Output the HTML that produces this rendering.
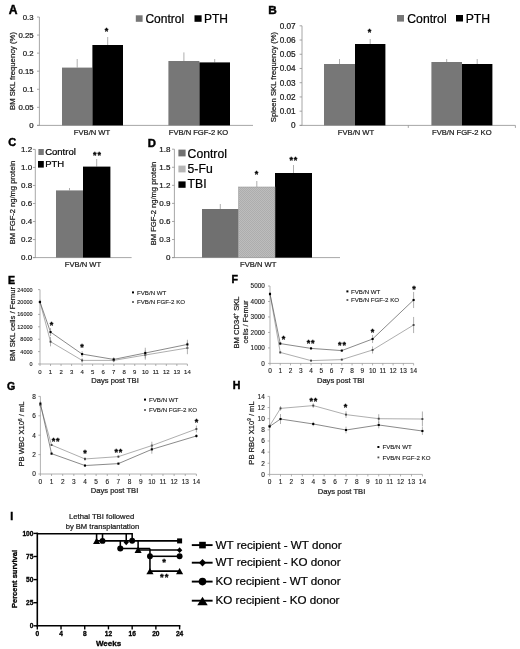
<!DOCTYPE html>
<html lang="en"><head><meta charset="utf-8"><title>Figure</title>
<style>
html,body{margin:0;padding:0;background:#fff}
body{width:520px;height:649px;overflow:hidden;font-family:"Liberation Sans", Arial, sans-serif}
svg{display:block;font-family:"Liberation Sans", Arial, sans-serif}
</style></head><body>
<svg width="520" height="649" viewBox="0 0 520 649">
<rect width="520" height="649" fill="#fff"/>
<text x="8.7" y="13.5" font-size="12.1" text-anchor="start" font-weight="bold" fill="#000" stroke="#000" stroke-width="0.45">A</text>
<line x1="39.4" y1="17" x2="39.4" y2="125.4" stroke="#909090" stroke-width="0.8"/>
<line x1="37.0" y1="17.0" x2="39.4" y2="17.0" stroke="#909090" stroke-width="0.8"/>
<text x="33.6" y="19.81" font-size="7.8" text-anchor="end" fill="#1a1a1a" stroke="#1a1a1a" stroke-width="0.22">0.3</text>
<line x1="37.0" y1="35.07" x2="39.4" y2="35.07" stroke="#909090" stroke-width="0.8"/>
<text x="33.6" y="37.87" font-size="7.8" text-anchor="end" fill="#1a1a1a" stroke="#1a1a1a" stroke-width="0.22">0.25</text>
<line x1="37.0" y1="53.13" x2="39.4" y2="53.13" stroke="#909090" stroke-width="0.8"/>
<text x="33.6" y="55.94" font-size="7.8" text-anchor="end" fill="#1a1a1a" stroke="#1a1a1a" stroke-width="0.22">0.2</text>
<line x1="37.0" y1="71.2" x2="39.4" y2="71.2" stroke="#909090" stroke-width="0.8"/>
<text x="33.6" y="74.01" font-size="7.8" text-anchor="end" fill="#1a1a1a" stroke="#1a1a1a" stroke-width="0.22">0.15</text>
<line x1="37.0" y1="89.27" x2="39.4" y2="89.27" stroke="#909090" stroke-width="0.8"/>
<text x="33.6" y="92.07" font-size="7.8" text-anchor="end" fill="#1a1a1a" stroke="#1a1a1a" stroke-width="0.22">0.1</text>
<line x1="37.0" y1="107.33" x2="39.4" y2="107.33" stroke="#909090" stroke-width="0.8"/>
<text x="33.6" y="110.14" font-size="7.8" text-anchor="end" fill="#1a1a1a" stroke="#1a1a1a" stroke-width="0.22">0.05</text>
<line x1="37.0" y1="125.4" x2="39.4" y2="125.4" stroke="#909090" stroke-width="0.8"/>
<text x="33.6" y="128.21" font-size="7.8" text-anchor="end" fill="#1a1a1a" stroke="#1a1a1a" stroke-width="0.22">0</text>
<line x1="37.0" y1="125.4" x2="253" y2="125.4" stroke="#909090" stroke-width="0.8"/>
<text x="15.2" y="71" font-size="7.7" text-anchor="middle" fill="#1a1a1a" stroke="#1a1a1a" stroke-width="0.22" transform="rotate(-90 15.2 71)">BM SKL frequency (%)</text>
<line x1="77.2" y1="59" x2="77.2" y2="67.6" stroke="#9a9a9a" stroke-width="0.8"/>
<rect x="62" y="67.6" width="30.4" height="57.8" fill="#777777"/>
<line x1="107.7" y1="37" x2="107.7" y2="45" stroke="#9a9a9a" stroke-width="0.8"/>
<rect x="92.4" y="45" width="30.6" height="80.4" fill="#000"/>
<line x1="183.9" y1="52.4" x2="183.9" y2="61" stroke="#9a9a9a" stroke-width="0.8"/>
<rect x="168.4" y="61" width="31.0" height="64.4" fill="#777777"/>
<line x1="214.7" y1="59" x2="214.7" y2="62.4" stroke="#9a9a9a" stroke-width="0.8"/>
<rect x="199.4" y="62.4" width="30.6" height="63.0" fill="#000"/>
<text x="92" y="135.1" font-size="7.6" text-anchor="middle" fill="#1a1a1a" stroke="#1a1a1a" stroke-width="0.22">FVB/N WT</text>
<text x="198.5" y="135.1" font-size="7.6" text-anchor="middle" fill="#1a1a1a" stroke="#1a1a1a" stroke-width="0.22">FVB/N FGF-2 KO</text>
<text x="106.6" y="33.55" font-size="9" text-anchor="middle" font-weight="bold" fill="#000" stroke="#000" stroke-width="0.3">*</text>
<rect x="135.8" y="15.3" width="6.8" height="6.5" fill="#777777"/>
<text x="145.4" y="23" font-size="12" text-anchor="start" fill="#000" stroke="#000" stroke-width="0.22">Control</text>
<rect x="194.5" y="15.3" width="7.1" height="6.5" fill="#000"/>
<text x="203.9" y="23" font-size="12" text-anchor="start" fill="#000" stroke="#000" stroke-width="0.22">PTH</text>
<text x="268.2" y="13.7" font-size="11.8" text-anchor="start" font-weight="bold" fill="#000" stroke="#000" stroke-width="0.45">B</text>
<line x1="302" y1="25.8" x2="302" y2="125.4" stroke="#909090" stroke-width="0.8"/>
<line x1="299.6" y1="25.8" x2="302" y2="25.8" stroke="#909090" stroke-width="0.8"/>
<text x="295.6" y="28.75" font-size="8.2" text-anchor="end" fill="#1a1a1a" stroke="#1a1a1a" stroke-width="0.22">0.07</text>
<line x1="299.6" y1="40.03" x2="302" y2="40.03" stroke="#909090" stroke-width="0.8"/>
<text x="295.6" y="42.98" font-size="8.2" text-anchor="end" fill="#1a1a1a" stroke="#1a1a1a" stroke-width="0.22">0.06</text>
<line x1="299.6" y1="54.26" x2="302" y2="54.26" stroke="#909090" stroke-width="0.8"/>
<text x="295.6" y="57.21" font-size="8.2" text-anchor="end" fill="#1a1a1a" stroke="#1a1a1a" stroke-width="0.22">0.05</text>
<line x1="299.6" y1="68.49" x2="302" y2="68.49" stroke="#909090" stroke-width="0.8"/>
<text x="295.6" y="71.44" font-size="8.2" text-anchor="end" fill="#1a1a1a" stroke="#1a1a1a" stroke-width="0.22">0.04</text>
<line x1="299.6" y1="82.71" x2="302" y2="82.71" stroke="#909090" stroke-width="0.8"/>
<text x="295.6" y="85.67" font-size="8.2" text-anchor="end" fill="#1a1a1a" stroke="#1a1a1a" stroke-width="0.22">0.03</text>
<line x1="299.6" y1="96.94" x2="302" y2="96.94" stroke="#909090" stroke-width="0.8"/>
<text x="295.6" y="99.89" font-size="8.2" text-anchor="end" fill="#1a1a1a" stroke="#1a1a1a" stroke-width="0.22">0.02</text>
<line x1="299.6" y1="111.17" x2="302" y2="111.17" stroke="#909090" stroke-width="0.8"/>
<text x="295.6" y="114.12" font-size="8.2" text-anchor="end" fill="#1a1a1a" stroke="#1a1a1a" stroke-width="0.22">0.01</text>
<line x1="299.6" y1="125.4" x2="302" y2="125.4" stroke="#909090" stroke-width="0.8"/>
<text x="295.6" y="128.35" font-size="8.2" text-anchor="end" fill="#1a1a1a" stroke="#1a1a1a" stroke-width="0.22">0</text>
<line x1="299.6" y1="125.4" x2="515.4" y2="125.4" stroke="#909090" stroke-width="0.8"/>
<line x1="408.3" y1="125.4" x2="408.3" y2="127.9" stroke="#909090" stroke-width="0.8"/>
<line x1="515.4" y1="125.4" x2="515.4" y2="127.9" stroke="#909090" stroke-width="0.8"/>
<text x="276.2" y="77" font-size="7.7" text-anchor="middle" fill="#1a1a1a" stroke="#1a1a1a" stroke-width="0.22" transform="rotate(-90 276.2 77)">Spleen SKL frequency (%)</text>
<line x1="339.5" y1="59" x2="339.5" y2="64" stroke="#9a9a9a" stroke-width="0.8"/>
<rect x="324" y="64" width="31" height="61.4" fill="#777777"/>
<line x1="370.2" y1="39" x2="370.2" y2="44" stroke="#9a9a9a" stroke-width="0.8"/>
<rect x="355" y="44" width="30.4" height="81.4" fill="#000"/>
<line x1="446.7" y1="59" x2="446.7" y2="62" stroke="#9a9a9a" stroke-width="0.8"/>
<rect x="431.4" y="62" width="30.6" height="63.4" fill="#777777"/>
<line x1="477.2" y1="59" x2="477.2" y2="64" stroke="#9a9a9a" stroke-width="0.8"/>
<rect x="462" y="64" width="30.4" height="61.4" fill="#000"/>
<text x="356" y="135.1" font-size="7.6" text-anchor="middle" fill="#1a1a1a" stroke="#1a1a1a" stroke-width="0.22">FVB/N WT</text>
<text x="461.8" y="135.1" font-size="7.6" text-anchor="middle" fill="#1a1a1a" stroke="#1a1a1a" stroke-width="0.22">FVB/N FGF-2 KO</text>
<text x="369.6" y="34.95" font-size="9" text-anchor="middle" font-weight="bold" fill="#000" stroke="#000" stroke-width="0.3">*</text>
<rect x="397" y="15" width="7" height="6.6" fill="#777777"/>
<text x="407.3" y="23" font-size="12.2" text-anchor="start" fill="#000" stroke="#000" stroke-width="0.22">Control</text>
<rect x="456" y="15" width="7" height="6.5" fill="#000"/>
<text x="465.7" y="23" font-size="12.2" text-anchor="start" fill="#000" stroke="#000" stroke-width="0.22">PTH</text>
<text x="8.2" y="146" font-size="11" text-anchor="start" font-weight="bold" fill="#000" stroke="#000" stroke-width="0.45">C</text>
<line x1="35.3" y1="149.4" x2="35.3" y2="257.6" stroke="#909090" stroke-width="0.8"/>
<line x1="32.9" y1="149.4" x2="35.3" y2="149.4" stroke="#909090" stroke-width="0.8"/>
<text x="32.2" y="152.28" font-size="8.0" text-anchor="end" fill="#1a1a1a" stroke="#1a1a1a" stroke-width="0.22">1.2</text>
<line x1="32.9" y1="167.43" x2="35.3" y2="167.43" stroke="#909090" stroke-width="0.8"/>
<text x="32.2" y="170.31" font-size="8.0" text-anchor="end" fill="#1a1a1a" stroke="#1a1a1a" stroke-width="0.22">1.0</text>
<line x1="32.9" y1="185.47" x2="35.3" y2="185.47" stroke="#909090" stroke-width="0.8"/>
<text x="32.2" y="188.35" font-size="8.0" text-anchor="end" fill="#1a1a1a" stroke="#1a1a1a" stroke-width="0.22">0.8</text>
<line x1="32.9" y1="203.5" x2="35.3" y2="203.5" stroke="#909090" stroke-width="0.8"/>
<text x="32.2" y="206.38" font-size="8.0" text-anchor="end" fill="#1a1a1a" stroke="#1a1a1a" stroke-width="0.22">0.6</text>
<line x1="32.9" y1="221.53" x2="35.3" y2="221.53" stroke="#909090" stroke-width="0.8"/>
<text x="32.2" y="224.41" font-size="8.0" text-anchor="end" fill="#1a1a1a" stroke="#1a1a1a" stroke-width="0.22">0.4</text>
<line x1="32.9" y1="239.57" x2="35.3" y2="239.57" stroke="#909090" stroke-width="0.8"/>
<text x="32.2" y="242.45" font-size="8.0" text-anchor="end" fill="#1a1a1a" stroke="#1a1a1a" stroke-width="0.22">0.2</text>
<line x1="32.9" y1="257.6" x2="35.3" y2="257.6" stroke="#909090" stroke-width="0.8"/>
<text x="32.2" y="260.48" font-size="8.0" text-anchor="end" fill="#1a1a1a" stroke="#1a1a1a" stroke-width="0.22">0.0</text>
<line x1="32.9" y1="257.6" x2="131.6" y2="257.6" stroke="#909090" stroke-width="0.8"/>
<text x="14.7" y="202.5" font-size="7.55" text-anchor="middle" fill="#1a1a1a" stroke="#1a1a1a" stroke-width="0.22" transform="rotate(-90 14.7 202.5)">BM FGF-2 ng/mg protein</text>
<line x1="69.5" y1="188" x2="69.5" y2="190.4" stroke="#9a9a9a" stroke-width="0.8"/>
<rect x="56" y="190.4" width="27" height="67.2" fill="#777777"/>
<line x1="96.7" y1="159" x2="96.7" y2="166.6" stroke="#9a9a9a" stroke-width="0.8"/>
<rect x="83" y="166.6" width="27.4" height="91.0" fill="#000"/>
<text x="83" y="267.1" font-size="7.6" text-anchor="middle" fill="#1a1a1a" stroke="#1a1a1a" stroke-width="0.22">FVB/N WT</text>
<text x="97.45" y="157.95" font-size="9" text-anchor="middle" font-weight="bold" fill="#000" stroke="#000" stroke-width="0.3" letter-spacing="0.9">**</text>
<rect x="38.4" y="149" width="5.4" height="6" fill="#777777"/>
<text x="45.2" y="154.8" font-size="9.5" text-anchor="start" fill="#000" stroke="#000" stroke-width="0.22">Control</text>
<rect x="38" y="161" width="5.8" height="6.6" fill="#000"/>
<text x="45.2" y="167.2" font-size="9.5" text-anchor="start" fill="#000" stroke="#000" stroke-width="0.22">PTH</text>
<defs><pattern id="hatch" width="2" height="2" patternUnits="userSpaceOnUse"><rect width="2" height="2" fill="#bdbdbd"/><rect width="1" height="1" fill="#adadad"/><rect x="1" y="1" width="1" height="1" fill="#adadad"/></pattern></defs>
<text x="147.8" y="147.2" font-size="11.3" text-anchor="start" font-weight="bold" fill="#000" stroke="#000" stroke-width="0.45">D</text>
<line x1="174.4" y1="149.2" x2="174.4" y2="257.6" stroke="#909090" stroke-width="0.8"/>
<line x1="172.0" y1="149.2" x2="174.4" y2="149.2" stroke="#909090" stroke-width="0.8"/>
<text x="170.4" y="152.08" font-size="8.0" text-anchor="end" fill="#1a1a1a" stroke="#1a1a1a" stroke-width="0.22">1.8</text>
<line x1="172.0" y1="167.27" x2="174.4" y2="167.27" stroke="#909090" stroke-width="0.8"/>
<text x="170.4" y="170.15" font-size="8.0" text-anchor="end" fill="#1a1a1a" stroke="#1a1a1a" stroke-width="0.22">1.5</text>
<line x1="172.0" y1="185.33" x2="174.4" y2="185.33" stroke="#909090" stroke-width="0.8"/>
<text x="170.4" y="188.21" font-size="8.0" text-anchor="end" fill="#1a1a1a" stroke="#1a1a1a" stroke-width="0.22">1.2</text>
<line x1="172.0" y1="203.4" x2="174.4" y2="203.4" stroke="#909090" stroke-width="0.8"/>
<text x="170.4" y="206.28" font-size="8.0" text-anchor="end" fill="#1a1a1a" stroke="#1a1a1a" stroke-width="0.22">0.9</text>
<line x1="172.0" y1="221.47" x2="174.4" y2="221.47" stroke="#909090" stroke-width="0.8"/>
<text x="170.4" y="224.35" font-size="8.0" text-anchor="end" fill="#1a1a1a" stroke="#1a1a1a" stroke-width="0.22">0.6</text>
<line x1="172.0" y1="239.53" x2="174.4" y2="239.53" stroke="#909090" stroke-width="0.8"/>
<text x="170.4" y="242.41" font-size="8.0" text-anchor="end" fill="#1a1a1a" stroke="#1a1a1a" stroke-width="0.22">0.3</text>
<line x1="172.0" y1="257.6" x2="174.4" y2="257.6" stroke="#909090" stroke-width="0.8"/>
<text x="170.4" y="260.48" font-size="8.0" text-anchor="end" fill="#1a1a1a" stroke="#1a1a1a" stroke-width="0.22">0</text>
<line x1="172.0" y1="257.6" x2="340" y2="257.6" stroke="#909090" stroke-width="0.8"/>
<text x="156.2" y="203.5" font-size="7.55" text-anchor="middle" fill="#1a1a1a" stroke="#1a1a1a" stroke-width="0.22" transform="rotate(-90 156.2 203.5)">BM FGF-2 ng/mg protein</text>
<line x1="220.3" y1="204" x2="220.3" y2="209" stroke="#9a9a9a" stroke-width="0.8"/>
<rect x="202" y="209" width="36.6" height="48.6" fill="#707070"/>
<line x1="256.8" y1="181" x2="256.8" y2="187" stroke="#9a9a9a" stroke-width="0.8"/>
<rect x="238.6" y="187" width="36.4" height="70.6" fill="url(#hatch)"/>
<line x1="293.5" y1="165" x2="293.5" y2="173" stroke="#9a9a9a" stroke-width="0.8"/>
<rect x="275" y="173" width="37" height="84.6" fill="#000"/>
<text x="258.2" y="267.1" font-size="7.6" text-anchor="middle" fill="#1a1a1a" stroke="#1a1a1a" stroke-width="0.22">FVB/N WT</text>
<text x="256.6" y="176.95" font-size="9" text-anchor="middle" font-weight="bold" fill="#000" stroke="#000" stroke-width="0.3">*</text>
<text x="293.85" y="162.95" font-size="9" text-anchor="middle" font-weight="bold" fill="#000" stroke="#000" stroke-width="0.3" letter-spacing="0.9">**</text>
<rect x="178.4" y="149.6" width="7.2" height="6.8" fill="#707070"/>
<text x="187.6" y="157.6" font-size="12.2" text-anchor="start" fill="#000" stroke="#000" stroke-width="0.22">Control</text>
<rect x="178.4" y="165.6" width="7.2" height="6.8" fill="#b6b6b6"/>
<text x="187.6" y="173.2" font-size="12.2" text-anchor="start" fill="#000" stroke="#000" stroke-width="0.22">5-Fu</text>
<rect x="178.4" y="181.4" width="7.2" height="6.4" fill="#000"/>
<text x="187.6" y="188.2" font-size="12.2" text-anchor="start" fill="#000" stroke="#000" stroke-width="0.22">TBI</text>
<rect x="238.6" y="187" width="36.4" height="70.6" fill="none" stroke="#9c9c9c" stroke-width="0.6"/>
<text x="8" y="283.6" font-size="10.6" text-anchor="start" font-weight="bold" fill="#000" stroke="#000" stroke-width="0.45">E</text>
<line x1="40" y1="289.6" x2="40" y2="364" stroke="#909090" stroke-width="0.7"/>
<line x1="38" y1="289.6" x2="40" y2="289.6" stroke="#909090" stroke-width="0.7"/>
<text x="32.6" y="291.58" font-size="5.5" text-anchor="end" fill="#1a1a1a" stroke="#1a1a1a" stroke-width="0.12">24000</text>
<line x1="38" y1="302.0" x2="40" y2="302.0" stroke="#909090" stroke-width="0.7"/>
<text x="32.6" y="303.98" font-size="5.5" text-anchor="end" fill="#1a1a1a" stroke="#1a1a1a" stroke-width="0.12">20000</text>
<line x1="38" y1="314.4" x2="40" y2="314.4" stroke="#909090" stroke-width="0.7"/>
<text x="32.6" y="316.38" font-size="5.5" text-anchor="end" fill="#1a1a1a" stroke="#1a1a1a" stroke-width="0.12">16000</text>
<line x1="38" y1="326.8" x2="40" y2="326.8" stroke="#909090" stroke-width="0.7"/>
<text x="32.6" y="328.78" font-size="5.5" text-anchor="end" fill="#1a1a1a" stroke="#1a1a1a" stroke-width="0.12">12000</text>
<line x1="38" y1="339.2" x2="40" y2="339.2" stroke="#909090" stroke-width="0.7"/>
<text x="32.6" y="341.18" font-size="5.5" text-anchor="end" fill="#1a1a1a" stroke="#1a1a1a" stroke-width="0.12">8000</text>
<line x1="38" y1="351.6" x2="40" y2="351.6" stroke="#909090" stroke-width="0.7"/>
<text x="32.6" y="353.58" font-size="5.5" text-anchor="end" fill="#1a1a1a" stroke="#1a1a1a" stroke-width="0.12">4000</text>
<line x1="38" y1="364.0" x2="40" y2="364.0" stroke="#909090" stroke-width="0.7"/>
<text x="32.6" y="365.98" font-size="5.5" text-anchor="end" fill="#1a1a1a" stroke="#1a1a1a" stroke-width="0.12">0</text>
<line x1="40" y1="364" x2="187.4" y2="364" stroke="#909090" stroke-width="0.7"/>
<line x1="40.0" y1="364" x2="40.0" y2="366" stroke="#909090" stroke-width="0.7"/>
<text x="40.0" y="373.5" font-size="6.0" text-anchor="middle" fill="#1a1a1a" stroke="#1a1a1a" stroke-width="0.12">0</text>
<line x1="50.53" y1="364" x2="50.53" y2="366" stroke="#909090" stroke-width="0.7"/>
<text x="50.53" y="373.5" font-size="6.0" text-anchor="middle" fill="#1a1a1a" stroke="#1a1a1a" stroke-width="0.12">1</text>
<line x1="61.06" y1="364" x2="61.06" y2="366" stroke="#909090" stroke-width="0.7"/>
<text x="61.06" y="373.5" font-size="6.0" text-anchor="middle" fill="#1a1a1a" stroke="#1a1a1a" stroke-width="0.12">2</text>
<line x1="71.59" y1="364" x2="71.59" y2="366" stroke="#909090" stroke-width="0.7"/>
<text x="71.59" y="373.5" font-size="6.0" text-anchor="middle" fill="#1a1a1a" stroke="#1a1a1a" stroke-width="0.12">3</text>
<line x1="82.11" y1="364" x2="82.11" y2="366" stroke="#909090" stroke-width="0.7"/>
<text x="82.11" y="373.5" font-size="6.0" text-anchor="middle" fill="#1a1a1a" stroke="#1a1a1a" stroke-width="0.12">4</text>
<line x1="92.64" y1="364" x2="92.64" y2="366" stroke="#909090" stroke-width="0.7"/>
<text x="92.64" y="373.5" font-size="6.0" text-anchor="middle" fill="#1a1a1a" stroke="#1a1a1a" stroke-width="0.12">5</text>
<line x1="103.17" y1="364" x2="103.17" y2="366" stroke="#909090" stroke-width="0.7"/>
<text x="103.17" y="373.5" font-size="6.0" text-anchor="middle" fill="#1a1a1a" stroke="#1a1a1a" stroke-width="0.12">6</text>
<line x1="113.7" y1="364" x2="113.7" y2="366" stroke="#909090" stroke-width="0.7"/>
<text x="113.7" y="373.5" font-size="6.0" text-anchor="middle" fill="#1a1a1a" stroke="#1a1a1a" stroke-width="0.12">7</text>
<line x1="124.23" y1="364" x2="124.23" y2="366" stroke="#909090" stroke-width="0.7"/>
<text x="124.23" y="373.5" font-size="6.0" text-anchor="middle" fill="#1a1a1a" stroke="#1a1a1a" stroke-width="0.12">8</text>
<line x1="134.76" y1="364" x2="134.76" y2="366" stroke="#909090" stroke-width="0.7"/>
<text x="134.76" y="373.5" font-size="6.0" text-anchor="middle" fill="#1a1a1a" stroke="#1a1a1a" stroke-width="0.12">9</text>
<line x1="145.29" y1="364" x2="145.29" y2="366" stroke="#909090" stroke-width="0.7"/>
<text x="145.29" y="373.5" font-size="6.0" text-anchor="middle" fill="#1a1a1a" stroke="#1a1a1a" stroke-width="0.12">10</text>
<line x1="155.81" y1="364" x2="155.81" y2="366" stroke="#909090" stroke-width="0.7"/>
<text x="155.81" y="373.5" font-size="6.0" text-anchor="middle" fill="#1a1a1a" stroke="#1a1a1a" stroke-width="0.12">11</text>
<line x1="166.34" y1="364" x2="166.34" y2="366" stroke="#909090" stroke-width="0.7"/>
<text x="166.34" y="373.5" font-size="6.0" text-anchor="middle" fill="#1a1a1a" stroke="#1a1a1a" stroke-width="0.12">12</text>
<line x1="176.87" y1="364" x2="176.87" y2="366" stroke="#909090" stroke-width="0.7"/>
<text x="176.87" y="373.5" font-size="6.0" text-anchor="middle" fill="#1a1a1a" stroke="#1a1a1a" stroke-width="0.12">13</text>
<line x1="187.4" y1="364" x2="187.4" y2="366" stroke="#909090" stroke-width="0.7"/>
<text x="187.4" y="373.5" font-size="6.0" text-anchor="middle" fill="#1a1a1a" stroke="#1a1a1a" stroke-width="0.12">14</text>
<text x="15" y="324" font-size="7.7" text-anchor="middle" fill="#1a1a1a" stroke="#1a1a1a" stroke-width="0.22" transform="rotate(-90 15 324)">BM SKL cells / Femur</text>
<text x="115" y="383.2" font-size="7.6" text-anchor="middle" fill="#1a1a1a" stroke="#1a1a1a" stroke-width="0.22">Days post TBI</text>
<line x1="40.0" y1="299.83" x2="40.0" y2="304.17" stroke="#858585" stroke-width="0.65"/>
<line x1="50.53" y1="337.03" x2="50.53" y2="346.33" stroke="#858585" stroke-width="0.65"/>
<line x1="82.11" y1="358.23" x2="82.11" y2="362.57" stroke="#858585" stroke-width="0.65"/>
<line x1="113.7" y1="358.54" x2="113.7" y2="362.26" stroke="#858585" stroke-width="0.65"/>
<line x1="145.29" y1="350.36" x2="145.29" y2="359.66" stroke="#858585" stroke-width="0.65"/>
<line x1="187.4" y1="341.8" x2="187.4" y2="354.2" stroke="#858585" stroke-width="0.65"/>
<polyline points="40.00,302.00 50.53,341.68 82.11,360.40 113.70,360.40 145.29,355.01 187.40,348.00" fill="none" stroke="#8e8e8e" stroke-width="0.72"/>
<rect x="39.05" y="301.05" width="1.9" height="1.9" fill="#444"/>
<rect x="49.58" y="340.73" width="1.9" height="1.9" fill="#444"/>
<rect x="81.16" y="359.45" width="1.9" height="1.9" fill="#444"/>
<rect x="112.75" y="359.45" width="1.9" height="1.9" fill="#444"/>
<rect x="144.34" y="354.06" width="1.9" height="1.9" fill="#444"/>
<rect x="186.45" y="347.05" width="1.9" height="1.9" fill="#444"/>
<line x1="40.0" y1="299.83" x2="40.0" y2="304.17" stroke="#858585" stroke-width="0.65"/>
<line x1="50.53" y1="328.04" x2="50.53" y2="336.1" stroke="#858585" stroke-width="0.65"/>
<line x1="82.11" y1="351.29" x2="82.11" y2="356.87" stroke="#858585" stroke-width="0.65"/>
<line x1="113.7" y1="357.24" x2="113.7" y2="361.58" stroke="#858585" stroke-width="0.65"/>
<line x1="145.29" y1="347.73" x2="145.29" y2="358.26" stroke="#858585" stroke-width="0.65"/>
<line x1="187.4" y1="339.76" x2="187.4" y2="349.06" stroke="#858585" stroke-width="0.65"/>
<polyline points="40.00,302.00 50.53,332.07 82.11,354.08 113.70,359.41 145.29,353.00 187.40,344.41" fill="none" stroke="#5c5c5c" stroke-width="0.72"/>
<rect x="38.95" y="300.95" width="2.1" height="2.1" fill="#000"/>
<rect x="49.48" y="331.02" width="2.1" height="2.1" fill="#000"/>
<rect x="81.06" y="353.03" width="2.1" height="2.1" fill="#000"/>
<rect x="112.65" y="358.36" width="2.1" height="2.1" fill="#000"/>
<rect x="144.24" y="351.94" width="2.1" height="2.1" fill="#000"/>
<rect x="186.35" y="343.36" width="2.1" height="2.1" fill="#000"/>
<text x="51.4" y="327.55" font-size="9" text-anchor="middle" font-weight="bold" fill="#000" stroke="#000" stroke-width="0.3">*</text>
<text x="82" y="350.35" font-size="9" text-anchor="middle" font-weight="bold" fill="#000" stroke="#000" stroke-width="0.3">*</text>
<rect x="132" y="291.4" width="2" height="2" fill="#000"/>
<text x="137" y="294.6" font-size="6.15" text-anchor="start" fill="#1a1a1a" stroke="#1a1a1a" stroke-width="0.12">FVB/N WT</text>
<rect x="132.1" y="301.1" width="1.8" height="1.8" fill="#505050"/>
<text x="137" y="304.2" font-size="6.15" text-anchor="start" fill="#1a1a1a" stroke="#1a1a1a" stroke-width="0.12">FVB/N FGF-2 KO</text>
<text x="231.4" y="283.2" font-size="10.6" text-anchor="start" font-weight="bold" fill="#000" stroke="#000" stroke-width="0.45">F</text>
<line x1="270" y1="286" x2="270" y2="363.4" stroke="#909090" stroke-width="0.7"/>
<line x1="268" y1="286.0" x2="270" y2="286.0" stroke="#909090" stroke-width="0.7"/>
<text x="264.8" y="288.3" font-size="6.4" text-anchor="end" fill="#1a1a1a" stroke="#1a1a1a" stroke-width="0.12">5000</text>
<line x1="268" y1="301.48" x2="270" y2="301.48" stroke="#909090" stroke-width="0.7"/>
<text x="264.8" y="303.78" font-size="6.4" text-anchor="end" fill="#1a1a1a" stroke="#1a1a1a" stroke-width="0.12">4000</text>
<line x1="268" y1="316.96" x2="270" y2="316.96" stroke="#909090" stroke-width="0.7"/>
<text x="264.8" y="319.26" font-size="6.4" text-anchor="end" fill="#1a1a1a" stroke="#1a1a1a" stroke-width="0.12">3000</text>
<line x1="268" y1="332.44" x2="270" y2="332.44" stroke="#909090" stroke-width="0.7"/>
<text x="264.8" y="334.74" font-size="6.4" text-anchor="end" fill="#1a1a1a" stroke="#1a1a1a" stroke-width="0.12">2000</text>
<line x1="268" y1="347.92" x2="270" y2="347.92" stroke="#909090" stroke-width="0.7"/>
<text x="264.8" y="350.22" font-size="6.4" text-anchor="end" fill="#1a1a1a" stroke="#1a1a1a" stroke-width="0.12">1000</text>
<line x1="268" y1="363.4" x2="270" y2="363.4" stroke="#909090" stroke-width="0.7"/>
<text x="264.8" y="365.7" font-size="6.4" text-anchor="end" fill="#1a1a1a" stroke="#1a1a1a" stroke-width="0.12">0</text>
<line x1="270" y1="363.4" x2="413.6" y2="363.4" stroke="#909090" stroke-width="0.7"/>
<line x1="270.0" y1="363.4" x2="270.0" y2="365.4" stroke="#909090" stroke-width="0.7"/>
<text x="270.0" y="373.4" font-size="6.5" text-anchor="middle" fill="#1a1a1a" stroke="#1a1a1a" stroke-width="0.12">0</text>
<line x1="280.26" y1="363.4" x2="280.26" y2="365.4" stroke="#909090" stroke-width="0.7"/>
<text x="280.26" y="373.4" font-size="6.5" text-anchor="middle" fill="#1a1a1a" stroke="#1a1a1a" stroke-width="0.12">1</text>
<line x1="290.51" y1="363.4" x2="290.51" y2="365.4" stroke="#909090" stroke-width="0.7"/>
<text x="290.51" y="373.4" font-size="6.5" text-anchor="middle" fill="#1a1a1a" stroke="#1a1a1a" stroke-width="0.12">2</text>
<line x1="300.77" y1="363.4" x2="300.77" y2="365.4" stroke="#909090" stroke-width="0.7"/>
<text x="300.77" y="373.4" font-size="6.5" text-anchor="middle" fill="#1a1a1a" stroke="#1a1a1a" stroke-width="0.12">3</text>
<line x1="311.03" y1="363.4" x2="311.03" y2="365.4" stroke="#909090" stroke-width="0.7"/>
<text x="311.03" y="373.4" font-size="6.5" text-anchor="middle" fill="#1a1a1a" stroke="#1a1a1a" stroke-width="0.12">4</text>
<line x1="321.29" y1="363.4" x2="321.29" y2="365.4" stroke="#909090" stroke-width="0.7"/>
<text x="321.29" y="373.4" font-size="6.5" text-anchor="middle" fill="#1a1a1a" stroke="#1a1a1a" stroke-width="0.12">5</text>
<line x1="331.54" y1="363.4" x2="331.54" y2="365.4" stroke="#909090" stroke-width="0.7"/>
<text x="331.54" y="373.4" font-size="6.5" text-anchor="middle" fill="#1a1a1a" stroke="#1a1a1a" stroke-width="0.12">6</text>
<line x1="341.8" y1="363.4" x2="341.8" y2="365.4" stroke="#909090" stroke-width="0.7"/>
<text x="341.8" y="373.4" font-size="6.5" text-anchor="middle" fill="#1a1a1a" stroke="#1a1a1a" stroke-width="0.12">7</text>
<line x1="352.06" y1="363.4" x2="352.06" y2="365.4" stroke="#909090" stroke-width="0.7"/>
<text x="352.06" y="373.4" font-size="6.5" text-anchor="middle" fill="#1a1a1a" stroke="#1a1a1a" stroke-width="0.12">8</text>
<line x1="362.31" y1="363.4" x2="362.31" y2="365.4" stroke="#909090" stroke-width="0.7"/>
<text x="362.31" y="373.4" font-size="6.5" text-anchor="middle" fill="#1a1a1a" stroke="#1a1a1a" stroke-width="0.12">9</text>
<line x1="372.57" y1="363.4" x2="372.57" y2="365.4" stroke="#909090" stroke-width="0.7"/>
<text x="372.57" y="373.4" font-size="6.5" text-anchor="middle" fill="#1a1a1a" stroke="#1a1a1a" stroke-width="0.12">10</text>
<line x1="382.83" y1="363.4" x2="382.83" y2="365.4" stroke="#909090" stroke-width="0.7"/>
<text x="382.83" y="373.4" font-size="6.5" text-anchor="middle" fill="#1a1a1a" stroke="#1a1a1a" stroke-width="0.12">11</text>
<line x1="393.09" y1="363.4" x2="393.09" y2="365.4" stroke="#909090" stroke-width="0.7"/>
<text x="393.09" y="373.4" font-size="6.5" text-anchor="middle" fill="#1a1a1a" stroke="#1a1a1a" stroke-width="0.12">12</text>
<line x1="403.34" y1="363.4" x2="403.34" y2="365.4" stroke="#909090" stroke-width="0.7"/>
<text x="403.34" y="373.4" font-size="6.5" text-anchor="middle" fill="#1a1a1a" stroke="#1a1a1a" stroke-width="0.12">13</text>
<line x1="413.6" y1="363.4" x2="413.6" y2="365.4" stroke="#909090" stroke-width="0.7"/>
<text x="413.6" y="373.4" font-size="6.5" text-anchor="middle" fill="#1a1a1a" stroke="#1a1a1a" stroke-width="0.12">14</text>
<text x="239" y="322.5" font-size="7.6" text-anchor="middle" fill="#1a1a1a" stroke="#1a1a1a" stroke-width="0.22" transform="rotate(-90 239 322.5)">BM CD34<tspan font-size="4.6" dy="-2.6">+</tspan><tspan dy="2.6"> SKL</tspan></text>
<text x="248.4" y="322" font-size="7.5" text-anchor="middle" fill="#1a1a1a" stroke="#1a1a1a" stroke-width="0.22" transform="rotate(-90 248.4 322)">cells / Femur</text>
<text x="340.7" y="383.2" font-size="7.6" text-anchor="middle" fill="#1a1a1a" stroke="#1a1a1a" stroke-width="0.22">Days post TBI</text>
<line x1="270.0" y1="291.99" x2="270.0" y2="296.02" stroke="#858585" stroke-width="0.65"/>
<line x1="280.26" y1="351.17" x2="280.26" y2="353.65" stroke="#858585" stroke-width="0.65"/>
<line x1="311.03" y1="359.84" x2="311.03" y2="361.39" stroke="#858585" stroke-width="0.65"/>
<line x1="341.8" y1="358.83" x2="341.8" y2="360.38" stroke="#858585" stroke-width="0.65"/>
<line x1="372.57" y1="346.43" x2="372.57" y2="353.55" stroke="#858585" stroke-width="0.65"/>
<line x1="413.6" y1="316.96" x2="413.6" y2="333.06" stroke="#858585" stroke-width="0.65"/>
<polyline points="270.00,294.00 280.26,352.41 311.03,360.61 341.80,359.61 372.57,349.99 413.60,325.01" fill="none" stroke="#8e8e8e" stroke-width="0.72"/>
<rect x="269.05" y="293.05" width="1.9" height="1.9" fill="#444"/>
<rect x="279.31" y="351.46" width="1.9" height="1.9" fill="#444"/>
<rect x="310.08" y="359.66" width="1.9" height="1.9" fill="#444"/>
<rect x="340.85" y="358.66" width="1.9" height="1.9" fill="#444"/>
<rect x="371.62" y="349.04" width="1.9" height="1.9" fill="#444"/>
<rect x="412.65" y="324.06" width="1.9" height="1.9" fill="#444"/>
<line x1="270.0" y1="291.99" x2="270.0" y2="296.02" stroke="#858585" stroke-width="0.65"/>
<line x1="280.26" y1="342.05" x2="280.26" y2="345.15" stroke="#858585" stroke-width="0.65"/>
<line x1="311.03" y1="347.47" x2="311.03" y2="349.33" stroke="#858585" stroke-width="0.65"/>
<line x1="341.8" y1="349.67" x2="341.8" y2="351.53" stroke="#858585" stroke-width="0.65"/>
<line x1="372.57" y1="334.98" x2="372.57" y2="343.03" stroke="#858585" stroke-width="0.65"/>
<line x1="413.6" y1="291.94" x2="413.6" y2="308.04" stroke="#858585" stroke-width="0.65"/>
<polyline points="270.00,294.00 280.26,343.60 311.03,348.40 341.80,350.60 372.57,339.00 413.60,299.99" fill="none" stroke="#5c5c5c" stroke-width="0.72"/>
<rect x="268.95" y="292.95" width="2.1" height="2.1" fill="#000"/>
<rect x="279.21" y="342.55" width="2.1" height="2.1" fill="#000"/>
<rect x="309.98" y="347.35" width="2.1" height="2.1" fill="#000"/>
<rect x="340.75" y="349.55" width="2.1" height="2.1" fill="#000"/>
<rect x="371.52" y="337.95" width="2.1" height="2.1" fill="#000"/>
<rect x="412.55" y="298.94" width="2.1" height="2.1" fill="#000"/>
<text x="283.6" y="341.55" font-size="9" text-anchor="middle" font-weight="bold" fill="#000" stroke="#000" stroke-width="0.3">*</text>
<text x="311.05" y="345.95" font-size="9" text-anchor="middle" font-weight="bold" fill="#000" stroke="#000" stroke-width="0.3" letter-spacing="0.9">**</text>
<text x="342.45" y="348.35" font-size="9" text-anchor="middle" font-weight="bold" fill="#000" stroke="#000" stroke-width="0.3" letter-spacing="0.9">**</text>
<text x="372.6" y="335.35" font-size="9" text-anchor="middle" font-weight="bold" fill="#000" stroke="#000" stroke-width="0.3">*</text>
<text x="414" y="291.95" font-size="9" text-anchor="middle" font-weight="bold" fill="#000" stroke="#000" stroke-width="0.3">*</text>
<rect x="346.4" y="290.4" width="2" height="2" fill="#000"/>
<text x="351" y="293.6" font-size="6.15" text-anchor="start" fill="#1a1a1a" stroke="#1a1a1a" stroke-width="0.12">FVB/N WT</text>
<rect x="346.5" y="299.1" width="1.8" height="1.8" fill="#505050"/>
<text x="351" y="302.2" font-size="6.15" text-anchor="start" fill="#1a1a1a" stroke="#1a1a1a" stroke-width="0.12">FVB/N FGF-2 KO</text>
<text x="7" y="390" font-size="10.6" text-anchor="start" font-weight="bold" fill="#000" stroke="#000" stroke-width="0.45">G</text>
<line x1="40.4" y1="396.4" x2="40.4" y2="474" stroke="#909090" stroke-width="0.7"/>
<line x1="38.4" y1="396.4" x2="40.4" y2="396.4" stroke="#909090" stroke-width="0.7"/>
<text x="35.8" y="398.74" font-size="6.5" text-anchor="end" fill="#1a1a1a" stroke="#1a1a1a" stroke-width="0.12">8</text>
<line x1="38.4" y1="415.8" x2="40.4" y2="415.8" stroke="#909090" stroke-width="0.7"/>
<text x="35.8" y="418.14" font-size="6.5" text-anchor="end" fill="#1a1a1a" stroke="#1a1a1a" stroke-width="0.12">6</text>
<line x1="38.4" y1="435.2" x2="40.4" y2="435.2" stroke="#909090" stroke-width="0.7"/>
<text x="35.8" y="437.54" font-size="6.5" text-anchor="end" fill="#1a1a1a" stroke="#1a1a1a" stroke-width="0.12">4</text>
<line x1="38.4" y1="454.6" x2="40.4" y2="454.6" stroke="#909090" stroke-width="0.7"/>
<text x="35.8" y="456.94" font-size="6.5" text-anchor="end" fill="#1a1a1a" stroke="#1a1a1a" stroke-width="0.12">2</text>
<line x1="38.4" y1="474.0" x2="40.4" y2="474.0" stroke="#909090" stroke-width="0.7"/>
<text x="35.8" y="476.34" font-size="6.5" text-anchor="end" fill="#1a1a1a" stroke="#1a1a1a" stroke-width="0.12">0</text>
<line x1="40.4" y1="474" x2="196.4" y2="474" stroke="#909090" stroke-width="0.7"/>
<line x1="40.4" y1="474" x2="40.4" y2="476" stroke="#909090" stroke-width="0.7"/>
<text x="40.4" y="483.8" font-size="6.5" text-anchor="middle" fill="#1a1a1a" stroke="#1a1a1a" stroke-width="0.12">0</text>
<line x1="51.54" y1="474" x2="51.54" y2="476" stroke="#909090" stroke-width="0.7"/>
<text x="51.54" y="483.8" font-size="6.5" text-anchor="middle" fill="#1a1a1a" stroke="#1a1a1a" stroke-width="0.12">1</text>
<line x1="62.69" y1="474" x2="62.69" y2="476" stroke="#909090" stroke-width="0.7"/>
<text x="62.69" y="483.8" font-size="6.5" text-anchor="middle" fill="#1a1a1a" stroke="#1a1a1a" stroke-width="0.12">2</text>
<line x1="73.83" y1="474" x2="73.83" y2="476" stroke="#909090" stroke-width="0.7"/>
<text x="73.83" y="483.8" font-size="6.5" text-anchor="middle" fill="#1a1a1a" stroke="#1a1a1a" stroke-width="0.12">3</text>
<line x1="84.97" y1="474" x2="84.97" y2="476" stroke="#909090" stroke-width="0.7"/>
<text x="84.97" y="483.8" font-size="6.5" text-anchor="middle" fill="#1a1a1a" stroke="#1a1a1a" stroke-width="0.12">4</text>
<line x1="96.11" y1="474" x2="96.11" y2="476" stroke="#909090" stroke-width="0.7"/>
<text x="96.11" y="483.8" font-size="6.5" text-anchor="middle" fill="#1a1a1a" stroke="#1a1a1a" stroke-width="0.12">5</text>
<line x1="107.26" y1="474" x2="107.26" y2="476" stroke="#909090" stroke-width="0.7"/>
<text x="107.26" y="483.8" font-size="6.5" text-anchor="middle" fill="#1a1a1a" stroke="#1a1a1a" stroke-width="0.12">6</text>
<line x1="118.4" y1="474" x2="118.4" y2="476" stroke="#909090" stroke-width="0.7"/>
<text x="118.4" y="483.8" font-size="6.5" text-anchor="middle" fill="#1a1a1a" stroke="#1a1a1a" stroke-width="0.12">7</text>
<line x1="129.54" y1="474" x2="129.54" y2="476" stroke="#909090" stroke-width="0.7"/>
<text x="129.54" y="483.8" font-size="6.5" text-anchor="middle" fill="#1a1a1a" stroke="#1a1a1a" stroke-width="0.12">8</text>
<line x1="140.69" y1="474" x2="140.69" y2="476" stroke="#909090" stroke-width="0.7"/>
<text x="140.69" y="483.8" font-size="6.5" text-anchor="middle" fill="#1a1a1a" stroke="#1a1a1a" stroke-width="0.12">9</text>
<line x1="151.83" y1="474" x2="151.83" y2="476" stroke="#909090" stroke-width="0.7"/>
<text x="151.83" y="483.8" font-size="6.5" text-anchor="middle" fill="#1a1a1a" stroke="#1a1a1a" stroke-width="0.12">10</text>
<line x1="162.97" y1="474" x2="162.97" y2="476" stroke="#909090" stroke-width="0.7"/>
<text x="162.97" y="483.8" font-size="6.5" text-anchor="middle" fill="#1a1a1a" stroke="#1a1a1a" stroke-width="0.12">11</text>
<line x1="174.11" y1="474" x2="174.11" y2="476" stroke="#909090" stroke-width="0.7"/>
<text x="174.11" y="483.8" font-size="6.5" text-anchor="middle" fill="#1a1a1a" stroke="#1a1a1a" stroke-width="0.12">12</text>
<line x1="185.26" y1="474" x2="185.26" y2="476" stroke="#909090" stroke-width="0.7"/>
<text x="185.26" y="483.8" font-size="6.5" text-anchor="middle" fill="#1a1a1a" stroke="#1a1a1a" stroke-width="0.12">13</text>
<line x1="196.4" y1="474" x2="196.4" y2="476" stroke="#909090" stroke-width="0.7"/>
<text x="196.4" y="483.8" font-size="6.5" text-anchor="middle" fill="#1a1a1a" stroke="#1a1a1a" stroke-width="0.12">14</text>
<text x="24.4" y="434" font-size="7.6" text-anchor="middle" fill="#1a1a1a" stroke="#1a1a1a" stroke-width="0.22" transform="rotate(-90 24.4 434)">PB WBC X10<tspan font-size="4.6" dy="-2.6">6</tspan><tspan dy="2.6"> / mL</tspan></text>
<text x="114.5" y="493.1" font-size="7.6" text-anchor="middle" fill="#1a1a1a" stroke="#1a1a1a" stroke-width="0.22">Days post TBI</text>
<line x1="40.4" y1="402.7" x2="40.4" y2="407.55" stroke="#858585" stroke-width="0.65"/>
<line x1="51.54" y1="444.03" x2="51.54" y2="445.97" stroke="#858585" stroke-width="0.65"/>
<line x1="84.97" y1="457.02" x2="84.97" y2="460.9" stroke="#858585" stroke-width="0.65"/>
<line x1="118.4" y1="455.47" x2="118.4" y2="457.8" stroke="#858585" stroke-width="0.65"/>
<line x1="151.83" y1="441.7" x2="151.83" y2="449.46" stroke="#858585" stroke-width="0.65"/>
<line x1="196.4" y1="425.6" x2="196.4" y2="432.39" stroke="#858585" stroke-width="0.65"/>
<polyline points="40.40,405.13 51.54,445.00 84.97,458.96 118.40,456.64 151.83,445.58 196.40,428.99" fill="none" stroke="#8e8e8e" stroke-width="0.72"/>
<rect x="39.45" y="404.18" width="1.9" height="1.9" fill="#444"/>
<rect x="50.59" y="444.05" width="1.9" height="1.9" fill="#444"/>
<rect x="84.02" y="458.01" width="1.9" height="1.9" fill="#444"/>
<rect x="117.45" y="455.69" width="1.9" height="1.9" fill="#444"/>
<rect x="150.88" y="444.63" width="1.9" height="1.9" fill="#444"/>
<rect x="195.45" y="428.04" width="1.9" height="1.9" fill="#444"/>
<line x1="40.4" y1="401.15" x2="40.4" y2="406.0" stroke="#858585" stroke-width="0.65"/>
<line x1="51.54" y1="452.66" x2="51.54" y2="454.6" stroke="#858585" stroke-width="0.65"/>
<line x1="84.97" y1="464.59" x2="84.97" y2="466.53" stroke="#858585" stroke-width="0.65"/>
<line x1="118.4" y1="462.65" x2="118.4" y2="464.59" stroke="#858585" stroke-width="0.65"/>
<line x1="151.83" y1="445.0" x2="151.83" y2="453.73" stroke="#858585" stroke-width="0.65"/>
<line x1="196.4" y1="434.04" x2="196.4" y2="437.92" stroke="#858585" stroke-width="0.65"/>
<polyline points="40.40,403.58 51.54,453.63 84.97,465.56 118.40,463.62 151.83,449.36 196.40,435.98" fill="none" stroke="#5c5c5c" stroke-width="0.72"/>
<rect x="39.35" y="402.53" width="2.1" height="2.1" fill="#000"/>
<rect x="50.49" y="452.58" width="2.1" height="2.1" fill="#000"/>
<rect x="83.92" y="464.51" width="2.1" height="2.1" fill="#000"/>
<rect x="117.35" y="462.57" width="2.1" height="2.1" fill="#000"/>
<rect x="150.78" y="448.31" width="2.1" height="2.1" fill="#000"/>
<rect x="195.35" y="434.93" width="2.1" height="2.1" fill="#000"/>
<text x="56.05" y="443.95" font-size="9" text-anchor="middle" font-weight="bold" fill="#000" stroke="#000" stroke-width="0.3" letter-spacing="0.9">**</text>
<text x="85" y="456.35" font-size="9" text-anchor="middle" font-weight="bold" fill="#000" stroke="#000" stroke-width="0.3">*</text>
<text x="118.85" y="454.95" font-size="9" text-anchor="middle" font-weight="bold" fill="#000" stroke="#000" stroke-width="0.3" letter-spacing="0.9">**</text>
<text x="196.4" y="424.95" font-size="9" text-anchor="middle" font-weight="bold" fill="#000" stroke="#000" stroke-width="0.3">*</text>
<rect x="144" y="398.6" width="2" height="2" fill="#000"/>
<text x="149" y="401.8" font-size="6.15" text-anchor="start" fill="#1a1a1a" stroke="#1a1a1a" stroke-width="0.12">FVB/N WT</text>
<rect x="144.1" y="409.1" width="1.8" height="1.8" fill="#505050"/>
<text x="149" y="412.2" font-size="6.15" text-anchor="start" fill="#1a1a1a" stroke="#1a1a1a" stroke-width="0.12">FVB/N FGF-2 KO</text>
<text x="232.8" y="388.6" font-size="10.6" text-anchor="start" font-weight="bold" fill="#000" stroke="#000" stroke-width="0.45">H</text>
<line x1="269.6" y1="396.4" x2="269.6" y2="474.4" stroke="#909090" stroke-width="0.7"/>
<line x1="267.6" y1="396.4" x2="269.6" y2="396.4" stroke="#909090" stroke-width="0.7"/>
<text x="264.8" y="398.74" font-size="6.5" text-anchor="end" fill="#1a1a1a" stroke="#1a1a1a" stroke-width="0.12">14</text>
<line x1="267.6" y1="407.54" x2="269.6" y2="407.54" stroke="#909090" stroke-width="0.7"/>
<text x="264.8" y="409.88" font-size="6.5" text-anchor="end" fill="#1a1a1a" stroke="#1a1a1a" stroke-width="0.12">12</text>
<line x1="267.6" y1="418.69" x2="269.6" y2="418.69" stroke="#909090" stroke-width="0.7"/>
<text x="264.8" y="421.03" font-size="6.5" text-anchor="end" fill="#1a1a1a" stroke="#1a1a1a" stroke-width="0.12">10</text>
<line x1="267.6" y1="429.83" x2="269.6" y2="429.83" stroke="#909090" stroke-width="0.7"/>
<text x="264.8" y="432.17" font-size="6.5" text-anchor="end" fill="#1a1a1a" stroke="#1a1a1a" stroke-width="0.12">8</text>
<line x1="267.6" y1="440.97" x2="269.6" y2="440.97" stroke="#909090" stroke-width="0.7"/>
<text x="264.8" y="443.31" font-size="6.5" text-anchor="end" fill="#1a1a1a" stroke="#1a1a1a" stroke-width="0.12">6</text>
<line x1="267.6" y1="452.11" x2="269.6" y2="452.11" stroke="#909090" stroke-width="0.7"/>
<text x="264.8" y="454.45" font-size="6.5" text-anchor="end" fill="#1a1a1a" stroke="#1a1a1a" stroke-width="0.12">4</text>
<line x1="267.6" y1="463.26" x2="269.6" y2="463.26" stroke="#909090" stroke-width="0.7"/>
<text x="264.8" y="465.6" font-size="6.5" text-anchor="end" fill="#1a1a1a" stroke="#1a1a1a" stroke-width="0.12">2</text>
<line x1="267.6" y1="474.4" x2="269.6" y2="474.4" stroke="#909090" stroke-width="0.7"/>
<text x="264.8" y="476.74" font-size="6.5" text-anchor="end" fill="#1a1a1a" stroke="#1a1a1a" stroke-width="0.12">0</text>
<line x1="269.6" y1="474.4" x2="422.4" y2="474.4" stroke="#909090" stroke-width="0.7"/>
<line x1="269.6" y1="474.4" x2="269.6" y2="476.4" stroke="#909090" stroke-width="0.7"/>
<text x="269.6" y="483.8" font-size="6.5" text-anchor="middle" fill="#1a1a1a" stroke="#1a1a1a" stroke-width="0.12">0</text>
<line x1="280.51" y1="474.4" x2="280.51" y2="476.4" stroke="#909090" stroke-width="0.7"/>
<text x="280.51" y="483.8" font-size="6.5" text-anchor="middle" fill="#1a1a1a" stroke="#1a1a1a" stroke-width="0.12">1</text>
<line x1="291.43" y1="474.4" x2="291.43" y2="476.4" stroke="#909090" stroke-width="0.7"/>
<text x="291.43" y="483.8" font-size="6.5" text-anchor="middle" fill="#1a1a1a" stroke="#1a1a1a" stroke-width="0.12">2</text>
<line x1="302.34" y1="474.4" x2="302.34" y2="476.4" stroke="#909090" stroke-width="0.7"/>
<text x="302.34" y="483.8" font-size="6.5" text-anchor="middle" fill="#1a1a1a" stroke="#1a1a1a" stroke-width="0.12">3</text>
<line x1="313.26" y1="474.4" x2="313.26" y2="476.4" stroke="#909090" stroke-width="0.7"/>
<text x="313.26" y="483.8" font-size="6.5" text-anchor="middle" fill="#1a1a1a" stroke="#1a1a1a" stroke-width="0.12">4</text>
<line x1="324.17" y1="474.4" x2="324.17" y2="476.4" stroke="#909090" stroke-width="0.7"/>
<text x="324.17" y="483.8" font-size="6.5" text-anchor="middle" fill="#1a1a1a" stroke="#1a1a1a" stroke-width="0.12">5</text>
<line x1="335.09" y1="474.4" x2="335.09" y2="476.4" stroke="#909090" stroke-width="0.7"/>
<text x="335.09" y="483.8" font-size="6.5" text-anchor="middle" fill="#1a1a1a" stroke="#1a1a1a" stroke-width="0.12">6</text>
<line x1="346.0" y1="474.4" x2="346.0" y2="476.4" stroke="#909090" stroke-width="0.7"/>
<text x="346.0" y="483.8" font-size="6.5" text-anchor="middle" fill="#1a1a1a" stroke="#1a1a1a" stroke-width="0.12">7</text>
<line x1="356.91" y1="474.4" x2="356.91" y2="476.4" stroke="#909090" stroke-width="0.7"/>
<text x="356.91" y="483.8" font-size="6.5" text-anchor="middle" fill="#1a1a1a" stroke="#1a1a1a" stroke-width="0.12">8</text>
<line x1="367.83" y1="474.4" x2="367.83" y2="476.4" stroke="#909090" stroke-width="0.7"/>
<text x="367.83" y="483.8" font-size="6.5" text-anchor="middle" fill="#1a1a1a" stroke="#1a1a1a" stroke-width="0.12">9</text>
<line x1="378.74" y1="474.4" x2="378.74" y2="476.4" stroke="#909090" stroke-width="0.7"/>
<text x="378.74" y="483.8" font-size="6.5" text-anchor="middle" fill="#1a1a1a" stroke="#1a1a1a" stroke-width="0.12">10</text>
<line x1="389.66" y1="474.4" x2="389.66" y2="476.4" stroke="#909090" stroke-width="0.7"/>
<text x="389.66" y="483.8" font-size="6.5" text-anchor="middle" fill="#1a1a1a" stroke="#1a1a1a" stroke-width="0.12">11</text>
<line x1="400.57" y1="474.4" x2="400.57" y2="476.4" stroke="#909090" stroke-width="0.7"/>
<text x="400.57" y="483.8" font-size="6.5" text-anchor="middle" fill="#1a1a1a" stroke="#1a1a1a" stroke-width="0.12">12</text>
<line x1="411.49" y1="474.4" x2="411.49" y2="476.4" stroke="#909090" stroke-width="0.7"/>
<text x="411.49" y="483.8" font-size="6.5" text-anchor="middle" fill="#1a1a1a" stroke="#1a1a1a" stroke-width="0.12">13</text>
<line x1="422.4" y1="474.4" x2="422.4" y2="476.4" stroke="#909090" stroke-width="0.7"/>
<text x="422.4" y="483.8" font-size="6.5" text-anchor="middle" fill="#1a1a1a" stroke="#1a1a1a" stroke-width="0.12">14</text>
<text x="253.5" y="433" font-size="7.6" text-anchor="middle" fill="#1a1a1a" stroke="#1a1a1a" stroke-width="0.22" transform="rotate(-90 253.5 433)">PB RBC X10<tspan font-size="4.6" dy="-2.6">9</tspan><tspan dy="2.6"> / mL</tspan></text>
<text x="341.5" y="493.6" font-size="7.6" text-anchor="middle" fill="#1a1a1a" stroke="#1a1a1a" stroke-width="0.22">Days post TBI</text>
<line x1="269.6" y1="424.26" x2="269.6" y2="427.6" stroke="#858585" stroke-width="0.65"/>
<line x1="280.51" y1="406.15" x2="280.51" y2="410.61" stroke="#858585" stroke-width="0.65"/>
<line x1="313.26" y1="403.36" x2="313.26" y2="407.82" stroke="#858585" stroke-width="0.65"/>
<line x1="346.0" y1="411.28" x2="346.0" y2="417.96" stroke="#858585" stroke-width="0.65"/>
<line x1="378.74" y1="414.23" x2="378.74" y2="423.14" stroke="#858585" stroke-width="0.65"/>
<line x1="422.4" y1="411.5" x2="422.4" y2="426.54" stroke="#858585" stroke-width="0.65"/>
<polyline points="269.60,425.93 280.51,408.38 313.26,405.59 346.00,414.62 378.74,418.69 422.40,419.02" fill="none" stroke="#8e8e8e" stroke-width="0.72"/>
<rect x="268.65" y="424.98" width="1.9" height="1.9" fill="#444"/>
<rect x="279.56" y="407.43" width="1.9" height="1.9" fill="#444"/>
<rect x="312.31" y="404.64" width="1.9" height="1.9" fill="#444"/>
<rect x="345.05" y="413.67" width="1.9" height="1.9" fill="#444"/>
<rect x="377.79" y="417.74" width="1.9" height="1.9" fill="#444"/>
<rect x="421.45" y="418.07" width="1.9" height="1.9" fill="#444"/>
<line x1="269.6" y1="424.81" x2="269.6" y2="428.16" stroke="#858585" stroke-width="0.65"/>
<line x1="280.51" y1="414.01" x2="280.51" y2="424.03" stroke="#858585" stroke-width="0.65"/>
<line x1="313.26" y1="421.75" x2="313.26" y2="426.21" stroke="#858585" stroke-width="0.65"/>
<line x1="346.0" y1="426.65" x2="346.0" y2="433.34" stroke="#858585" stroke-width="0.65"/>
<line x1="378.74" y1="421.64" x2="378.74" y2="428.32" stroke="#858585" stroke-width="0.65"/>
<line x1="422.4" y1="427.1" x2="422.4" y2="434.9" stroke="#858585" stroke-width="0.65"/>
<polyline points="269.60,426.49 280.51,419.02 313.26,423.98 346.00,430.00 378.74,424.98 422.40,431.00" fill="none" stroke="#5c5c5c" stroke-width="0.72"/>
<rect x="268.55" y="425.44" width="2.1" height="2.1" fill="#000"/>
<rect x="279.46" y="417.97" width="2.1" height="2.1" fill="#000"/>
<rect x="312.21" y="422.93" width="2.1" height="2.1" fill="#000"/>
<rect x="344.95" y="428.95" width="2.1" height="2.1" fill="#000"/>
<rect x="377.69" y="423.93" width="2.1" height="2.1" fill="#000"/>
<rect x="421.35" y="429.95" width="2.1" height="2.1" fill="#000"/>
<text x="313.85" y="403.55" font-size="9" text-anchor="middle" font-weight="bold" fill="#000" stroke="#000" stroke-width="0.3" letter-spacing="0.9">**</text>
<text x="345.6" y="410.35" font-size="9" text-anchor="middle" font-weight="bold" fill="#000" stroke="#000" stroke-width="0.3">*</text>
<rect x="377.4" y="446" width="2" height="2" fill="#000"/>
<text x="382.4" y="449.2" font-size="6.15" text-anchor="start" fill="#1a1a1a" stroke="#1a1a1a" stroke-width="0.12">FVB/N WT</text>
<rect x="377.5" y="456.5" width="1.8" height="1.8" fill="#505050"/>
<text x="382.4" y="459.6" font-size="6.15" text-anchor="start" fill="#1a1a1a" stroke="#1a1a1a" stroke-width="0.12">FVB/N FGF-2 KO</text>
<text x="10.3" y="520.4" font-size="10.6" text-anchor="start" font-weight="bold" fill="#000" stroke="#000" stroke-width="0.45">I</text>
<text x="101.6" y="518.7" font-size="7.7" text-anchor="middle" fill="#1a1a1a" stroke="#1a1a1a" stroke-width="0.22">Lethal TBI followed</text>
<text x="102.4" y="528.6" font-size="7.6" text-anchor="middle" fill="#1a1a1a" stroke="#1a1a1a" stroke-width="0.22">by BM transplantation</text>
<line x1="37.3" y1="532.6" x2="37.3" y2="626.5999999999999" stroke="#000" stroke-width="1.6"/>
<line x1="36.5" y1="625.8" x2="180.4" y2="625.8" stroke="#000" stroke-width="1.6"/>
<line x1="33.5" y1="625.8" x2="37.3" y2="625.8" stroke="#000" stroke-width="1.4"/>
<text x="33.4" y="628.2" font-size="6.6" text-anchor="end" font-weight="bold" fill="#000" stroke="#000" stroke-width="0.3">0</text>
<line x1="33.5" y1="602.7" x2="37.3" y2="602.7" stroke="#000" stroke-width="1.4"/>
<text x="33.4" y="605.1" font-size="6.6" text-anchor="end" font-weight="bold" fill="#000" stroke="#000" stroke-width="0.3">25</text>
<line x1="33.5" y1="579.6" x2="37.3" y2="579.6" stroke="#000" stroke-width="1.4"/>
<text x="33.4" y="582.0" font-size="6.6" text-anchor="end" font-weight="bold" fill="#000" stroke="#000" stroke-width="0.3">50</text>
<line x1="33.5" y1="556.5" x2="37.3" y2="556.5" stroke="#000" stroke-width="1.4"/>
<text x="33.4" y="558.9" font-size="6.6" text-anchor="end" font-weight="bold" fill="#000" stroke="#000" stroke-width="0.3">75</text>
<line x1="33.5" y1="533.4" x2="37.3" y2="533.4" stroke="#000" stroke-width="1.4"/>
<text x="33.4" y="535.8" font-size="6.6" text-anchor="end" font-weight="bold" fill="#000" stroke="#000" stroke-width="0.3">100</text>
<line x1="37.3" y1="625.8" x2="37.3" y2="629.4" stroke="#000" stroke-width="1.4"/>
<text x="37.3" y="635.6" font-size="6.6" text-anchor="middle" font-weight="bold" fill="#000" stroke="#000" stroke-width="0.3">0</text>
<line x1="61.02" y1="625.8" x2="61.02" y2="629.4" stroke="#000" stroke-width="1.4"/>
<text x="61.02" y="635.6" font-size="6.6" text-anchor="middle" font-weight="bold" fill="#000" stroke="#000" stroke-width="0.3">4</text>
<line x1="84.73" y1="625.8" x2="84.73" y2="629.4" stroke="#000" stroke-width="1.4"/>
<text x="84.73" y="635.6" font-size="6.6" text-anchor="middle" font-weight="bold" fill="#000" stroke="#000" stroke-width="0.3">8</text>
<line x1="108.45" y1="625.8" x2="108.45" y2="629.4" stroke="#000" stroke-width="1.4"/>
<text x="108.45" y="635.6" font-size="6.6" text-anchor="middle" font-weight="bold" fill="#000" stroke="#000" stroke-width="0.3">12</text>
<line x1="132.17" y1="625.8" x2="132.17" y2="629.4" stroke="#000" stroke-width="1.4"/>
<text x="132.17" y="635.6" font-size="6.6" text-anchor="middle" font-weight="bold" fill="#000" stroke="#000" stroke-width="0.3">16</text>
<line x1="155.88" y1="625.8" x2="155.88" y2="629.4" stroke="#000" stroke-width="1.4"/>
<text x="155.88" y="635.6" font-size="6.6" text-anchor="middle" font-weight="bold" fill="#000" stroke="#000" stroke-width="0.3">20</text>
<line x1="179.6" y1="625.8" x2="179.6" y2="629.4" stroke="#000" stroke-width="1.4"/>
<text x="179.6" y="635.6" font-size="6.6" text-anchor="middle" font-weight="bold" fill="#000" stroke="#000" stroke-width="0.3">24</text>
<text x="16.5" y="579" font-size="7.5" text-anchor="middle" font-weight="bold" fill="#000" stroke="#000" stroke-width="0.3" transform="rotate(-90 16.5 579)">Percent survival</text>
<text x="108.5" y="645.8" font-size="8" text-anchor="middle" font-weight="bold" fill="#000" stroke="#000" stroke-width="0.3">Weeks</text>
<polyline points="37.3,533.7 132.17,533.7 132.17,540.9" fill="none" stroke="#000" stroke-width="1.55" stroke-linejoin="miter"/>
<line x1="96.59" y1="533.7" x2="96.59" y2="540.9" stroke="#000" stroke-width="1.55"/>
<line x1="102.52" y1="533.7" x2="102.52" y2="540.9" stroke="#000" stroke-width="1.55"/>
<line x1="126.24" y1="533.7" x2="126.24" y2="540.9" stroke="#000" stroke-width="1.55"/>
<polyline points="96.59,540.9 179.6,540.9" fill="none" stroke="#000" stroke-width="1.9" stroke-linejoin="miter"/>
<polyline points="120.31,540.9 120.31,548.5 149.95,548.5" fill="none" stroke="#000" stroke-width="1.55" stroke-linejoin="miter"/>
<line x1="138.1" y1="540.9" x2="138.1" y2="550.0" stroke="#000" stroke-width="1.55"/>
<polyline points="138.1,550.0 179.6,550.0" fill="none" stroke="#000" stroke-width="1.55" stroke-linejoin="miter"/>
<polyline points="149.95,548.5 149.95,571.1 179.6,571.1" fill="none" stroke="#000" stroke-width="1.55" stroke-linejoin="miter"/>
<polyline points="149.95,556.3 179.6,556.3" fill="none" stroke="#000" stroke-width="1.55" stroke-linejoin="miter"/>
<polygon points="93.04,544.1 100.14,544.1 96.59,537.7" fill="#000"/>
<circle cx="102.52" cy="540.9" r="2.95" fill="#000"/>
<polygon points="123.54,542.3 126.24,539.46 128.94,542.3 126.24,545.13" fill="#000"/>
<circle cx="132.17" cy="540.6999999999999" r="2.95" fill="#000"/>
<rect x="177.1" y="538.4" width="5.0" height="5.0" fill="#000"/>
<circle cx="120.31" cy="548.5" r="3.05" fill="#000"/>
<polygon points="134.55,552.9 141.65,552.9 138.1,546.5" fill="#000"/>
<polygon points="176.9,550.2 179.6,547.37 182.3,550.2 179.6,553.04" fill="#000"/>
<circle cx="149.95" cy="556.3" r="2.95" fill="#000"/>
<circle cx="179.6" cy="556.3" r="2.95" fill="#000"/>
<polygon points="146.4,574.3 153.5,574.3 149.95,567.9" fill="#000"/>
<polygon points="176.05,574.3 183.15,574.3 179.6,567.9" fill="#000"/>
<text x="164.1" y="564.77" font-size="9.5" text-anchor="middle" font-weight="bold" fill="#000" stroke="#000" stroke-width="0.3">*</text>
<text x="164.65" y="580.38" font-size="9.5" text-anchor="middle" font-weight="bold" fill="#000" stroke="#000" stroke-width="0.3" letter-spacing="0.9">**</text>
<line x1="191.8" y1="545.1" x2="212.6" y2="545.1" stroke="#000" stroke-width="1.9"/>
<rect x="199.2" y="541.8" width="6.6" height="6.6" fill="#000"/>
<text x="215.6" y="548.5" font-size="11.62" text-anchor="start" fill="#000" stroke="#000" stroke-width="0.22">WT recipient - WT donor</text>
<line x1="191.8" y1="562.7" x2="212.6" y2="562.7" stroke="#000" stroke-width="1.9"/>
<polygon points="198.9,562.7 202.5,558.92 206.1,562.7 202.5,566.48" fill="#000"/>
<text x="215.6" y="566.1" font-size="11.62" text-anchor="start" fill="#000" stroke="#000" stroke-width="0.22">WT recipient - KO donor</text>
<line x1="191.8" y1="581.6" x2="212.6" y2="581.6" stroke="#000" stroke-width="1.9"/>
<circle cx="202.5" cy="581.6" r="3.8" fill="#000"/>
<text x="215.6" y="585.0" font-size="11.62" text-anchor="start" fill="#000" stroke="#000" stroke-width="0.22">KO recipient - WT donor</text>
<line x1="191.8" y1="600.7" x2="212.6" y2="600.7" stroke="#000" stroke-width="1.9"/>
<polygon points="197.3,605.3 207.7,605.3 202.5,596.7" fill="#000"/>
<text x="215.6" y="604.1" font-size="11.62" text-anchor="start" fill="#000" stroke="#000" stroke-width="0.22">KO recipient - KO donor</text>
</svg>
</body></html>
